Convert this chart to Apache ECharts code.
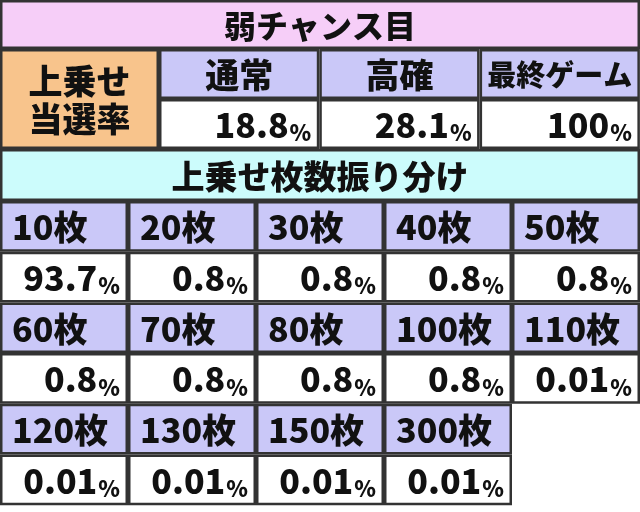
<!DOCTYPE html>
<html><head><meta charset="utf-8">
<script src="https://cdn.jsdelivr.net/npm/echarts@6/dist/echarts.min.js"></script>
<style>html,body{margin:0;padding:0;background:#fff}#c{width:640px;height:512px}</style>
</head><body><div id="c"></div>
<script>
const title = "弱チャンス目";
const rateLabel = "上乗せ\n当選率";
const modeNames = ["通常", "高確", "最終ゲーム"];
const modeRates = ["18.8", "28.1", "100"];
const splitTitle = "上乗せ枚数振り分け";
const coinCats = ["10枚","20枚","30枚","40枚","50枚","60枚","70枚","80枚","100枚","110枚","120枚","130枚","150枚","300枚"];
const coinRates = ["93.7","0.8","0.8","0.8","0.8","0.8","0.8","0.8","0.8","0.01","0.01","0.01","0.01","0.01"];

const C = {pink:"#f6cef8", lav:"#cac8f8", org:"#f8c48c", cyan:"#ccfcfc", white:"#ffffff"};
const cells = [];
cells.push({x0:0,y0:0,x1:640,y1:49,fill:C.pink,text:title,align:"center",fs:32});
cells.push({x0:0,y0:49,x1:159,y1:149,fill:C.org,text:rateLabel,align:"center",lh:38});
modeNames.forEach((n,i)=>{
  const x0=159+i*160.3, x1=159+(i+1)*160.3;
  cells.push({x0,y0:49,x1,y1:99,fill:C.lav,text:n,align:"center",fs:n.length>3?29:34});
  cells.push({x0,y0:99,x1,y1:149,fill:C.white,text:modeRates[i],pct:true,align:"right"});
});
cells.push({x0:0,y0:149,x1:640,y1:201,fill:C.cyan,text:splitTitle,align:"center",fs:33});
const rh=50.7;
coinCats.forEach((n,i)=>{
  const r=Math.floor(i/5), c=i%5;
  const x0=c*128, x1=(c+1)*128, y0=201+r*2*rh;
  cells.push({x0,y0,x1,y1:y0+rh,fill:C.lav,text:n,align:"left"});
  cells.push({x0,y0:y0+rh,x1,y1:y0+2*rh,fill:C.white,text:coinRates[i],pct:true,align:"right"});
});

const chart = echarts.init(document.getElementById('c'));
chart.setOption({
  animation:false,
  grid:{left:0,right:0,top:0,bottom:0},
  xAxis:{type:'value',min:0,max:640,show:false},
  yAxis:{type:'value',min:0,max:512,inverse:true,show:false},
  series:[{
    type:'custom',
    data:cells.map((c,i)=>[c.x0,c.y0,c.x1,c.y1,i]),
    renderItem:(params,api)=>{
      const c=cells[api.value(4)];
      const p0=api.coord([api.value(0),api.value(1)]);
      const p1=api.coord([api.value(2),api.value(3)]);
      const w=p1[0]-p0[0], h=p1[1]-p0[1];
      let tx, ta;
      if(c.align==='center'){tx=p0[0]+w/2;ta='center';}
      else if(c.align==='left'){tx=p0[0]+12;ta='left';}
      else {tx=p1[0]-8;ta='right';}
      const txt = c.pct ? '{n|'+c.text+'}{p|%}' : '{n|'+c.text+'}';
      return {type:'group',children:[
        {type:'rect',shape:{x:p0[0]+1.25,y:p0[1]+1.25,width:w-2.5,height:h-2.5},
         style:{fill:c.fill,stroke:'#333',lineWidth:2.5}},
        {type:'text',x:tx,y:p0[1]+h/2+1,style:{text:txt,align:ta,verticalAlign:'middle',
          rich:{n:{fontFamily:'"Noto Sans CJK JP"',fontWeight:900,fontSize:c.fs||34,fill:'#111',lineHeight:c.lh||38},
                p:{fontFamily:'"Noto Sans CJK JP"',fontWeight:900,fontSize:22,fill:'#111',verticalAlign:'bottom',padding:[8,0,0,1]}}}}
      ]};
    }
  }]
});
</script></body></html>
